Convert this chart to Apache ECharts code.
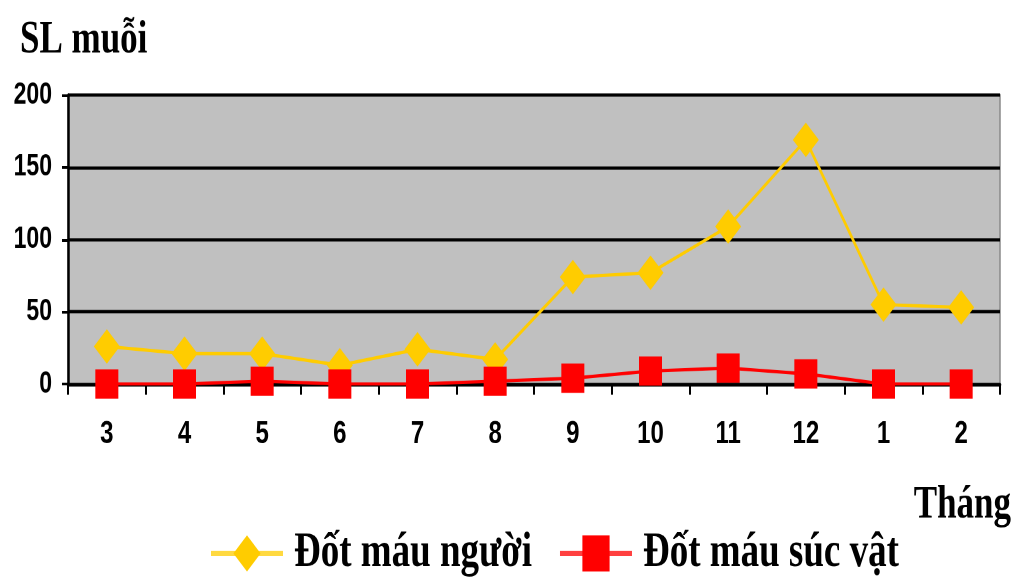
<!DOCTYPE html>
<html>
<head>
<meta charset="utf-8">
<script src="https://cdn.jsdelivr.net/npm/echarts@6/dist/echarts.min.js"></script>
<style>
  html { overflow: hidden; }
  body { margin: 0; padding: 0; background: #fff; width: 1016px; height: 578px; }
  /* the chart is laid out in a shorter box and stretched vertically */
  #chart { width: 1016px; height: 435px; transform: scaleY(1.3287); transform-origin: 0 0; }
</style>
</head>
<body>
<div id="chart"></div>
<script>
// Monthly mosquito counts, March through February
const months = ['3', '4', '5', '6', '7', '8', '9', '10', '11', '12', '1', '2'];
const humanBiting = [26, 21, 21, 13, 24, 17, 74, 77, 109, 169, 55, 53];
const animalBiting = [0, 0, 2, 0, 0, 2, 4, 9, 11, 7, 0, 0];
const yTicks = { min: 0, max: 200, interval: 50 };

const seriesNames = ['Đốt máu người', 'Đốt máu súc vật'];
const serif = 'Liberation Serif, Times New Roman, serif';
const sans = 'Liberation Sans, Arial, sans-serif';

const chart = echarts.init(document.getElementById('chart'), null, { devicePixelRatio: 2 });

chart.setOption({
  animation: false,
  backgroundColor: '#ffffff',
  grid: {
    left: 68, right: 16, top: 71.5, bottom: 146,
    show: true,
    backgroundColor: '#c0c0c0',
    borderColor: '#8a8a8a',
    borderWidth: 1.5
  },
  graphic: [
    {
      type: 'text', left: 20, top: 13,
      style: { text: 'SL muỗi', font: 'bold 35px ' + serif, fill: '#000' }
    },
    {
      type: 'text', right: 5, top: 363,
      style: { text: 'Tháng', font: 'bold 35px ' + serif, fill: '#000' }
    }
  ],
  legend: {
    left: 204, top: 393,
    itemWidth: 72, itemHeight: 34, itemGap: 26,
    lineStyle: { width: 4, opacity: 0.75 },
    textStyle: { fontFamily: serif, fontWeight: 'bold', fontSize: 37, color: '#000', padding: [0, 0, 0, 6] },
    data: seriesNames
  },
  xAxis: {
    type: 'category',
    data: months,
    boundaryGap: true,
    axisLine: { lineStyle: { color: '#000', width: 2.5 } },
    axisTick: { show: true, length: 8, lineStyle: { color: '#000', width: 2 } },
    axisLabel: { margin: 26, fontFamily: sans, fontWeight: 'bold', fontSize: 24, color: '#000' },
    splitLine: { show: false }
  },
  yAxis: {
    type: 'value',
    min: yTicks.min, max: yTicks.max, interval: yTicks.interval,
    axisLine: { show: true, lineStyle: { color: '#000', width: 2.5 } },
    axisTick: { show: true, length: 6, lineStyle: { color: '#000', width: 2 } },
    axisLabel: { margin: 16, fontFamily: sans, fontWeight: 'bold', fontSize: 23, color: '#000' },
    splitLine: { show: true, lineStyle: { color: '#000', width: 2.5 } }
  },
  series: [
    {
      name: seriesNames[0],
      type: 'line',
      data: humanBiting,
      symbol: 'diamond',
      symbolSize: [26, 26],
      lineStyle: { color: '#ffcc00', width: 2.5 },
      itemStyle: { color: '#ffcc00' },
      z: 2
    },
    {
      name: seriesNames[1],
      type: 'line',
      data: animalBiting,
      symbol: 'rect',
      symbolSize: [23, 22],
      lineStyle: { color: '#ff0000', width: 2.5 },
      itemStyle: { color: '#ff0000' },
      z: 3
    }
  ]
});
</script>
</body>
</html>
